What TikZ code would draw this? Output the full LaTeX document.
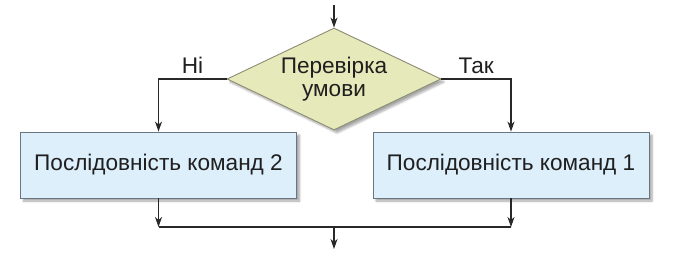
\documentclass[tikz,border=0pt]{standalone}
\usepackage{fontspec}
\setmainfont{Liberation Sans}
\usetikzlibrary{arrows.meta,shapes.geometric,shadows.blur}
\definecolor{boxfill}{RGB}{221,239,251}
\definecolor{boxline}{RGB}{105,118,130}
\definecolor{condfill}{RGB}{230,233,185}
\definecolor{condline}{RGB}{140,140,115}
\definecolor{linecol}{RGB}{40,40,40}

\begin{document}
\begin{tikzpicture}[x=1pt, y=-1pt, >={Stealth[length=10pt,width=7pt,inset=3pt]},
  font=\fontsize{22.6}{23}\selectfont, text=black!88,
  cmdbox/.style={rectangle, draw=boxline, fill=boxfill, line width=0.9pt,
    minimum width=276pt, minimum height=66pt,
    blur shadow={shadow xshift=3pt, shadow yshift=-3pt, shadow blur steps=6, shadow opacity=35}},
  cond/.style={diamond, draw=condline, fill=condfill, line width=0.9pt, aspect=2.1,
    minimum width=214pt, minimum height=102pt, inner sep=0pt, align=center,
    blur shadow={shadow xshift=3pt, shadow yshift=-3pt, shadow blur steps=6, shadow opacity=35}},
  flow/.style={draw=linecol, line width=1.1pt}]
  \useasboundingbox (0,0) rectangle (683,258);

  % --- умова ---
  \node[cond] (check) at (334,79) {Перевірка\\умови};
  % --- команди ---
  \node[cmdbox] (seq2) at (158.5,165) {Послідовність команд 2};
  \node[cmdbox] (seq1) at (511,165) {Послідовність команд 1};
  \coordinate (in) at (334,5);
  \coordinate (join) at (334,227);
  \coordinate (out) at (334,249);

  % --- стрілки ---
  \draw[flow,->] (in) -- (check.north);
  \draw[flow,->] (check.west) -| node[pos=.25, above, inner sep=5pt] {Ні} (seq2.north);
  \draw[flow,->] (check.east) -| node[pos=.25, above, inner sep=5pt] {Так} (seq1.north);
  \draw[flow,->] (seq2.south) -- (seq2.south |- join);
  \draw[flow,->] (seq1.south) -- (seq1.south |- join);
  \draw[flow] (seq2.south |- join) -- (seq1.south |- join);
  \draw[flow,->] (join) -- (out);
\end{tikzpicture}
\end{document}
